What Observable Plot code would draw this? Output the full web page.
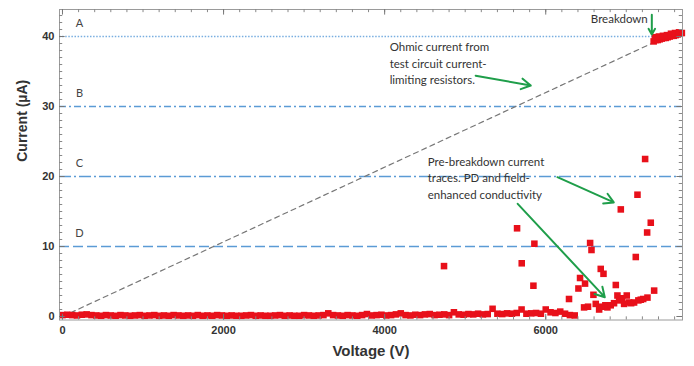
<!DOCTYPE html>
<html><head><meta charset="utf-8">
<script src="https://cdn.jsdelivr.net/npm/d3@7"></script>
<script src="https://cdn.jsdelivr.net/npm/@observablehq/plot@0.6"></script>
<style>body{margin:0;background:#fff}</style>
</head><body><div id="chart"></div>
<script>
// Axis ticks
const xTicks = [0, 2000, 4000, 6000];
const yTicks = [0, 10, 20, 30, 40];
const xMinorTicks = d3.range(0, 7700, 200);
const yMinorTicks = d3.range(0, 44, 1);
const xMajorTicks = [0, 2000, 4000, 6000];
const yMajorTicks = [0, 10, 20, 30, 40];

// Reference levels
const levelNames = ["A", "B", "C", "D"];
const levelValues = [40, 30, 20, 10];

// Ohmic current line (test circuit current-limiting resistors)
const ohmicVoltage = [0, 7370];
const ohmicCurrent = [0, 39.3];

// Baseline measurements near zero current (V)
const baselineVoltage = [
  0,60,120,180,240,300,360,420,480,540,600,660,720,780,840,900,960,1020,1080,1140,1200,
  1260,1320,1380,1440,1500,1560,1620,1680,1740,1800,1860,1920,1980,2040,2100,2160,2220,2280,2340,2400,
  2460,2520,2580,2640,2700,2760,2820,2880,2940,3000,3060,3120,3180,3240,3300,3360,3420,3480,3540,3600,
  3660,3720,3780,3840,3900,3960,4020,4080,4140,4200,4260,4320,4380,4440,4500,4560,4620,4680,4740,4800,
  4860,4920,4980,5040,5100,5160,5220,5280,5340,5400,5460,5520,5580,5640,5700,5760,5820,5880,5940,6000,
  6060,6120,6180,6240,6300,6360
];
const baselineCurrent = [
  0.2,0.25,0.2,0.15,0.25,0.3,0.2,0.15,0.1,0.2,0.15,0.1,0.2,0.15,0.1,0.15,0.2,0.1,0.15,0.2,0.1,
  0.15,0.1,0.2,0.15,0.1,0.15,0.1,0.2,0.1,0.15,0.1,0.2,0.15,0.1,0.15,0.1,0.1,0.15,0.2,0.1,
  0.15,0.1,0.1,0.15,0.2,0.1,0.15,0.1,0.1,0.2,0.15,0.1,0.15,0.2,0.45,0.2,0.15,0.1,0.2,0.15,
  0.1,0.2,0.35,0.15,0.2,0.25,0.15,0.2,0.3,0.45,0.2,0.15,0.25,0.2,0.3,0.35,0.2,0.25,0.3,0.2,
  0.6,0.3,0.25,0.35,0.3,0.4,0.3,0.35,1.1,0.4,0.35,0.45,0.4,0.5,1.0,0.4,0.45,0.5,0.4,1.0,
  0.6,0.5,0.7,0.4,0.2,0.15
];

// Pre-breakdown current traces
const preVoltage = [
  4737,5644,5702,5847,5859,6289,6406,6426,6488,6476,6525,6551,6568,6592,6621,6663,6683,6700,6717,6740,
  6766,6807,6848,6870,6890,6911,6932,6950,6973,7006,7035,7060,7097,7118,7139,7150,7180,7210,7234,7259,
  7263,7304,7346
];
const preCurrent = [
  7.2,12.6,7.6,4.4,10.4,2.5,4.0,5.5,4.7,1.3,1.4,10.5,9.5,3.1,1.8,1.0,6.8,1.4,6.1,1.6,
  1.3,1.6,1.9,4.5,3.0,2.3,15.3,2.6,1.8,3.0,2.0,1.9,2.0,8.5,17.4,2.3,2.4,2.5,22.5,12.0,
  2.7,13.4,3.7
];

// Breakdown
const breakdownVoltage = [7340,7365,7390,7415,7440,7465,7490,7515,7540,7565,7590,7615,7640,7665,7690,7355,7405,7455,7505,7555,7605,7655];
const breakdownCurrent = [39.3,39.5,39.5,39.6,39.7,39.8,39.8,39.9,40.0,40.1,40.1,40.2,40.3,40.4,40.5,39.9,40.0,40.1,40.2,40.4,40.5,40.6];

const toRows = (xs, ys) => xs.map((v, i) => ({v, c: ys[i]}));
const baseline = toRows(baselineVoltage, baselineCurrent);
const pre = toRows(preVoltage, preCurrent);
const breakdown = toRows(breakdownVoltage, breakdownCurrent);
const ohmic = toRows(ohmicVoltage, ohmicCurrent);
const levels = levelNames.map((n, i) => ({n, c: levelValues[i]}));

const levelStyles = ["1.5,1.6", "7,3,2,3", "12,3,2,3", "10,4"];
const levelColors = ["#79aee0", "#5b9bd5", "#5b9bd5", "#5b9bd5"];

const red = "#e8101a";
const green = "#1f9e4a";
const X0 = -37, X1 = 7698, Y0 = -0.5, Y1 = 43.86;

const annoFont = "Lato, 'Open Sans', sans-serif";

const chart = Plot.plot({
  width: 694,
  height: 366,
  marginLeft: 59,
  marginRight: 12,
  marginTop: 9,
  marginBottom: 46.5,
  x: {domain: [X0, X1]},
  y: {domain: [Y0, Y1]},
  style: {fontFamily: "'Liberation Sans', Arial, sans-serif", background: "white"},
  marks: [
    // reference levels
    ...levels.map((d, i) => Plot.ruleY([d.c], {stroke: levelColors[i], strokeWidth: 1.5, strokeDasharray: levelStyles[i]})),
    Plot.text(levels, {x: 211, y: "c", text: "n", dy: -13, fontSize: 11, fill: "#444", fontFamily: annoFont}),
    // ohmic line
    Plot.line(ohmic, {x: "v", y: "c", stroke: "#777", strokeWidth: 1.2, strokeDasharray: "5,4"}),
    // data
    Plot.dot(baseline, {x: "v", y: "c", symbol: "square", r: 3.7, fill: red, stroke: "none"}),
    Plot.dot(pre, {x: "v", y: "c", symbol: "square", r: 3.7, fill: red, stroke: "none"}),
    Plot.dot(breakdown, {x: "v", y: "c", symbol: "square", r: 3.7, fill: red, stroke: "none"}),
    // frame and ticks
    Plot.frame({stroke: "#9a9a9a"}),
    Plot.ruleX(xMinorTicks, {y1: Y0, y2: Y0 + 0.45, stroke: "#888"}),
    Plot.ruleX(xMinorTicks, {y1: Y1, y2: Y1 - 0.45, stroke: "#888"}),
    Plot.ruleX(xMajorTicks, {y1: Y0, y2: Y0 + 0.8, stroke: "#777"}),
    Plot.ruleX(xMajorTicks, {y1: Y1, y2: Y1 - 0.8, stroke: "#777"}),
    Plot.ruleY(yMinorTicks, {x1: X0, x2: X0 + 40, stroke: "#888"}),
    Plot.ruleY(yMinorTicks, {x1: X1, x2: X1 - 40, stroke: "#888"}),
    Plot.ruleY(yMajorTicks, {x1: X0, x2: X0 + 70, stroke: "#777"}),
    Plot.ruleY(yMajorTicks, {x1: X1, x2: X1 - 70, stroke: "#777"}),
    Plot.axisX(xTicks, {tickSize: 0, tickPadding: 6, fontSize: 11, fontWeight: "bold", fill: "#333", label: null, tickFormat: d => String(d)}),
    Plot.axisY(yTicks, {tickSize: 0, tickPadding: 5, fontSize: 11, fontWeight: "bold", fill: "#333", label: null, tickFormat: d => String(d)}),
    Plot.text(["Voltage (V)"], {frameAnchor: "bottom", dy: 35.5, fontSize: 15, fontWeight: "bold", fill: "#333"}),
    Plot.text(["Current (µA)"], {frameAnchor: "left", dx: -37, dy: -3, rotate: -90, fontSize: 14, fontWeight: "bold", fill: "#333"}),
    // annotations
    Plot.text(["Ohmic current from\ntest circuit current-\nlimiting resistors."], {x: 4062, y: 36.3, textAnchor: "start", lineAnchor: "middle", lineHeight: 1.43, fontSize: 11.5, fill: "#333", fontFamily: annoFont}),
    Plot.arrow([{x1: 5130, y1: 34.4, x2: 5814, y2: 33.0}], {x1: "x1", y1: "y1", x2: "x2", y2: "y2", stroke: green, strokeWidth: 2, headLength: 8}),
    Plot.text(["Breakdown"], {x: 7267, y: 42.4, textAnchor: "end", fontSize: 11.5, fill: "#333", fontFamily: annoFont}),
    Plot.arrow([{x1: 7317, y1: 43.1, x2: 7317, y2: 40.3}], {x1: "x1", y1: "y1", x2: "x2", y2: "y2", stroke: green, strokeWidth: 2, headLength: 7}),
    Plot.text(["Pre-breakdown current\ntraces. PD and field-\nenhanced conductivity"], {x: 4534, y: 19.9, textAnchor: "start", lineAnchor: "middle", lineHeight: 1.43, fontSize: 11.5, fill: "#333", fontFamily: annoFont}),
    Plot.arrow([{x1: 6145, y1: 19.9, x2: 6845, y2: 16.3}, {x1: 5652, y1: 16.1, x2: 6733, y2: 2.76}], {x1: "x1", y1: "y1", x2: "x2", y2: "y2", stroke: green, strokeWidth: 2, headLength: 8})
  ]
});
document.getElementById("chart").appendChild(chart);
</script>
</body></html>
